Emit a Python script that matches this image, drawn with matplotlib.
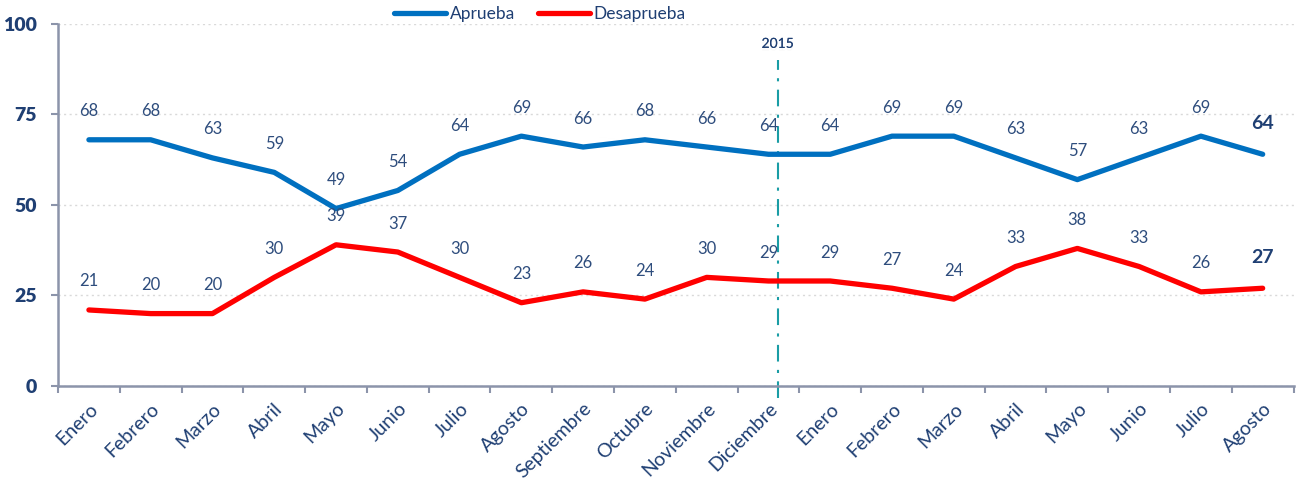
import numpy as np
import matplotlib as mpl
import matplotlib.pyplot as plt
import matplotlib.patheffects as pe

mpl.rcParams["font.family"] = ["Lato", "DejaVu Sans"]

months = ["Enero", "Febrero", "Marzo", "Abril", "Mayo", "Junio", "Julio",
          "Agosto", "Septiembre", "Octubre", "Noviembre", "Diciembre",
          "Enero", "Febrero", "Marzo", "Abril", "Mayo", "Junio", "Julio", "Agosto"]
aprueba = [68, 68, 63, 59, 49, 54, 64, 69, 66, 68, 66, 64, 64, 69, 69, 63, 57, 63, 69, 64]
desaprueba = [21, 20, 20, 30, 39, 37, 30, 23, 26, 24, 30, 29, 29, 27, 24, 33, 38, 33, 26, 27]
year_label = "2015"
year_pos = 11.15

navy = "#1f3f73"
label_col = "#2e4d7d"
axis_col = "#8c94aa"

fig = plt.figure(figsize=(13.04, 4.88), dpi=100)
ax = fig.add_axes([0.0445, 0.209, 0.9475, 0.742])

x = np.arange(len(months))
ax.plot(x, aprueba, color="#0070c0", lw=3.8, solid_capstyle="round", label="Aprueba", zorder=3)
ax.plot(x, desaprueba, color="#ff0000", lw=3.8, solid_capstyle="round", label="Desaprueba", zorder=3)

for series in (aprueba, desaprueba):
    for i, v in enumerate(series):
        last = i == len(series) - 1
        ax.annotate(str(v), (i, v), xytext=(0, 20.5 if not last else 22), textcoords="offset points",
                    ha="center", va="center", color=label_col if not last else navy,
                    fontsize=12 if not last else 14, fontweight="bold" if last else "normal")

ax.set_xlim(-0.5, len(months) - 0.5)
ax.set_ylim(0, 100)
ax.set_yticks([0, 25, 50, 75, 100])
ax.set_xticks(x)
ax.set_xticklabels(months, rotation=45, ha="right", rotation_mode="anchor",
                   color=navy, fontsize=14)
ax.set_xticks(np.arange(-0.5, len(months)), minor=True)
ax.tick_params(axis="x", which="major", length=0, pad=10)
ax.tick_params(axis="x", which="minor", length=5, color=axis_col, width=1.5)
ax.tick_params(axis="y", length=5, color=axis_col, width=1.5, pad=10)
for lab in ax.get_yticklabels():
    lab.set_color(navy)
    lab.set_fontweight("heavy")
    lab.set_fontsize(14)

for y in [0, 25, 50, 75, 100]:
    ax.axhline(y, color="#d9d9d9", lw=1, ls=(0, (1.5, 2.5)), zorder=1)

for s in ["top", "right"]:
    ax.spines[s].set_visible(False)
for s in ["left", "bottom"]:
    ax.spines[s].set_color(axis_col)
    ax.spines[s].set_linewidth(1.8)

ax.plot([year_pos, year_pos], [-3.3, 90], color="#1a9da5", lw=1.5,
        ls=(0, (8, 4, 1.5, 4)), clip_on=False, zorder=2)
ax.text(year_pos, 94.5, year_label, ha="center", va="center", fontsize=10, color=navy,
        path_effects=[pe.withSimplePatchShadow(offset=(0, -2), alpha=0.06, shadow_rgbFace="#999999"), pe.Normal()])

leg = ax.legend(loc="lower center", bbox_to_anchor=(0.39, 0.985), ncol=2, frameon=False,
                fontsize=12.5, handlelength=3.0, handletextpad=0.2, columnspacing=1.3,
                borderaxespad=0)
for t in leg.get_texts():
    t.set_color(navy)

fig.savefig("out.png", dpi=100)
